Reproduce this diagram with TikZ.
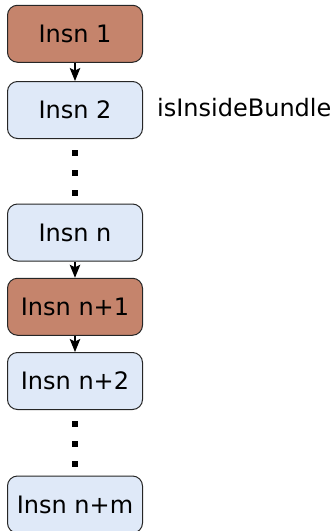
\documentclass[tikz,border=0pt]{standalone}
\usepackage{fontspec}
\setmainfont{DejaVu Sans}
\usetikzlibrary{arrows.meta}

\definecolor{insnbrown}{RGB}{197,132,108}
\definecolor{insnblue}{RGB}{223,233,248}

\begin{document}
\begin{tikzpicture}[x=1pt,y=-1pt,
    insn/.style={draw=black!85, line width=1pt, rounded corners=10pt,
        minimum width=135pt, minimum height=57pt, inner sep=0pt,
        font=\fontsize{24}{29}\selectfont},
    bundle/.style={insn, fill=insnbrown},
    plain/.style={insn, fill=insnblue},
    flow/.style={line width=1.3pt, -{Stealth[length=13pt,width=10.5pt,inset=2.5pt]}},
    skip/.style={line width=6pt, dash pattern=on 6pt off 14pt, dash phase=9pt}]
    \useasboundingbox (0,0) rectangle (334,531);

    \node[bundle] (I1) at (75,33.75) {Insn 1};
    \node[plain] (I2) at (75,110) {Insn 2};
    \node[plain] (In) at (75,232.5) {Insn n};
    \node[bundle] (In1) at (75,306.75) {Insn n+1};
    \node[plain] (In2) at (75,381) {Insn n+2};
    \node[plain] (Inm) at (75,504.5) {Insn n+m};

    \node[anchor=base west, inner sep=0pt, font=\fontsize{24}{29}\selectfont]
        (inside) at (157,116.7) {isInsideBundle};

    \draw[flow] (I1) -- (I2);
    \draw[flow] (In) -- (In1);
    \draw[flow] (In1) -- (In2);

    \draw[skip] (I2.south) -- (In.north);
    \draw[skip] (In2.south) -- (Inm.north);
\end{tikzpicture}
\end{document}
